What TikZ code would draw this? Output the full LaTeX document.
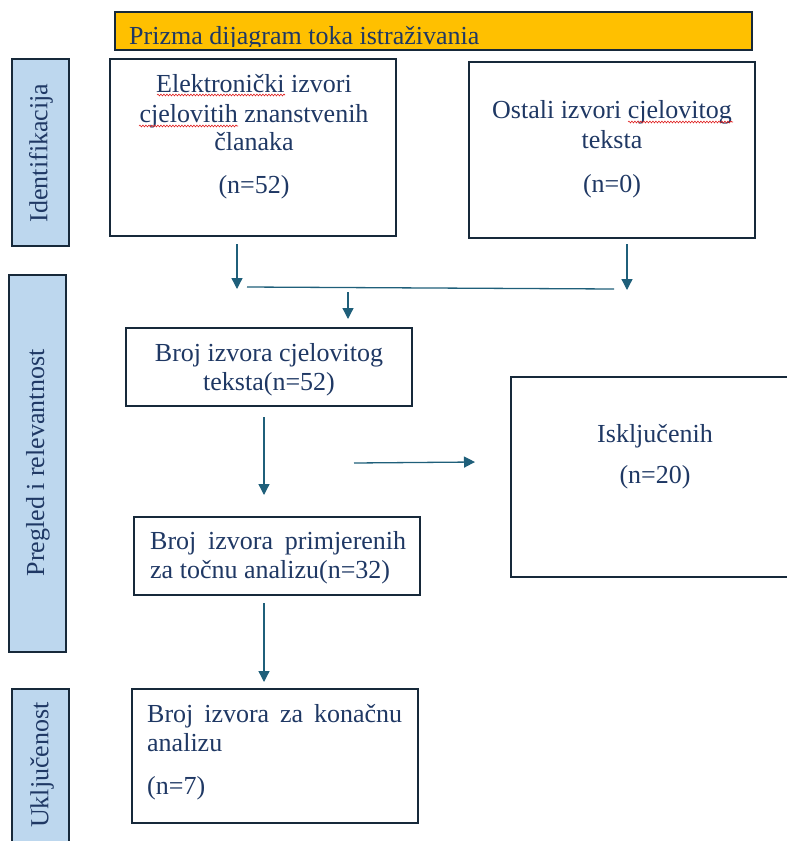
\documentclass[tikz,border=0pt]{standalone}
\usepackage{fontspec}
\setmainfont{Liberation Serif}
\usetikzlibrary{decorations.pathmorphing,arrows.meta}
\definecolor{txt}{HTML}{1F3864}
\definecolor{edge}{HTML}{17293A}
\definecolor{arr}{HTML}{1F5F7A}
\definecolor{sidefill}{HTML}{BDD7EE}
\definecolor{gold}{HTML}{FFC000}
\definecolor{wave}{HTML}{E02020}
\begin{document}
\begin{tikzpicture}[x=1pt,y=-1pt,
  boxshape/.style={draw=edge, line width=1.8pt, fill=white},
  sideshape/.style={draw=edge, line width=1.8pt, fill=sidefill},
  lbl/.style={inner sep=0pt, text=txt, font=\fontsize{26}{30}\selectfont},
  sidelbl/.style={lbl, rotate=90},
  arrowline/.style={draw=arr, line width=1.3pt, -{Triangle[length=11pt,width=11pt]}},
  plainline/.style={draw=arr, line width=1.3pt},
  spell/.style={draw=wave, line width=0.6pt, decorate, decoration={snake, amplitude=0.9pt, segment length=3pt}}
]
\useasboundingbox (0,0) rectangle (787,841);
\clip (0,0) rectangle (787,841);

% title bar
\fill[gold] (115,12) rectangle (752,50);
\begin{scope}
  \clip (115,12) rectangle (752,46.5);
  \node[lbl, anchor=base west] (title) at (129,44) {Prizma dijagram toka istraživania};
\end{scope}
\draw[draw=edge, line width=1.8pt] (115,12) rectangle (752,50);

% side bars
\draw[sideshape] (12,59) rectangle (69,246);
\node[sidelbl] (sideid) at (41,153) {Identifikacija};
\draw[sideshape] (9,275) rectangle (66,652);
\node[sidelbl] (sidepr) at (38,463) {Pregled i relevantnost};
\draw[sideshape] (12,689) rectangle (69,850);
\node[sidelbl] (sideuk) at (42,765) {Uključenost};

% boxes
\draw[boxshape] (110,59) rectangle (396,236);
\node[lbl, anchor=base] (e1) at (254,92) {Elektronički izvori};
\node[lbl, anchor=base] (e2) at (254,122) {cjelovitih znanstvenih};
\node[lbl, anchor=base] (e3) at (254,150) {članaka};
\node[lbl, anchor=base] (e4) at (254,193) {(n=52)};
\draw[spell] (157,95) -- (285,95);
\draw[spell] (139,126) -- (238,126);

\draw[boxshape] (469,62) rectangle (755,238);
\node[lbl, anchor=base] (o1) at (612,118) {Ostali izvori cjelovitog};
\node[lbl, anchor=base] (o2) at (612,148) {teksta};
\node[lbl, anchor=base] (o3) at (612,192) {(n=0)};
\draw[spell] (628,122) -- (733,122);

\draw[boxshape] (126,328) rectangle (412,406);
\node[lbl, anchor=base] (b11) at (269,361) {Broj izvora cjelovitog};
\node[lbl, anchor=base] (b12) at (269,390) {teksta(n=52)};

\draw[boxshape] (134,517) rectangle (420,595);
\node[lbl, anchor=base west] (b21) at (150,549) {\makebox[256pt][s]{Broj izvora primjerenih}};
\node[lbl, anchor=base west] (b22) at (150,578) {za točnu analizu(n=32)};

\draw[boxshape] (511,377) rectangle (800,577);
\node[lbl, anchor=base] (i1) at (655,442) {Isključenih};
\node[lbl, anchor=base] (i2) at (655,483) {(n=20)};

\draw[boxshape] (132,689) rectangle (418,823);
\node[lbl, anchor=base west] (f1) at (147,722) {\makebox[255pt][s]{Broj izvora za konačnu}};
\node[lbl, anchor=base west] (f2) at (147,751) {analizu};
\node[lbl, anchor=base west] (f3) at (147,794) {(n=7)};

% connectors
\coordinate (a1s) at (237,244); \coordinate (a1e) at (237,289);
\coordinate (a2s) at (627,244); \coordinate (a2e) at (627,290);
\coordinate (h1) at (247,287);  \coordinate (h2) at (614,289);
\coordinate (a3s) at (348,292); \coordinate (a3e) at (348,319);
\coordinate (a4s) at (264,417); \coordinate (a4e) at (264,495);
\coordinate (a5s) at (354,463); \coordinate (a5e) at (475,462);
\coordinate (a6s) at (264,603); \coordinate (a6e) at (264,682);
\draw[arrowline] (a1s) -- (a1e);
\draw[arrowline] (a2s) -- (a2e);
\draw[plainline] (h1) -- (h2);
\draw[arrowline] (a3s) -- (a3e);
\draw[arrowline] (a4s) -- (a4e);
\draw[arrowline] (a5s) -- (a5e);
\draw[arrowline] (a6s) -- (a6e);
\end{tikzpicture}
\end{document}
